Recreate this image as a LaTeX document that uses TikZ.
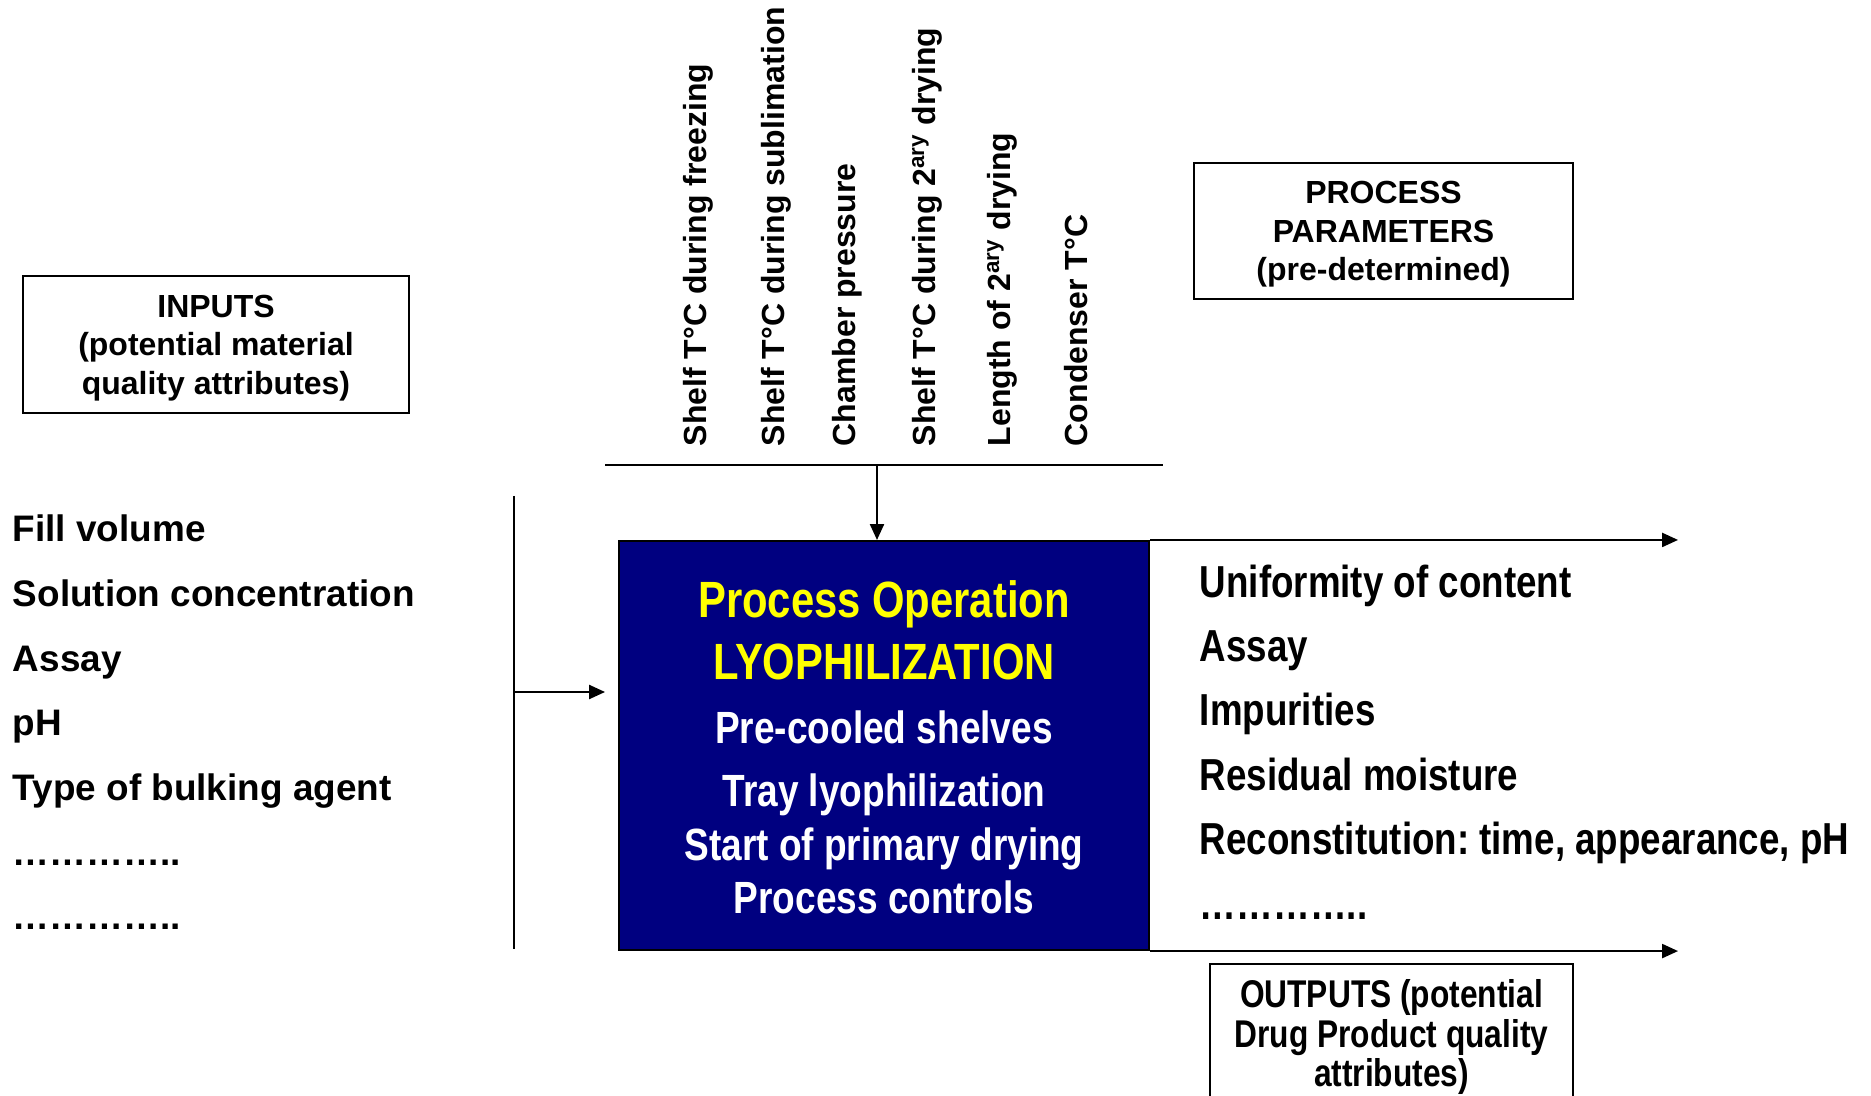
\documentclass[tikz,border=0pt]{standalone}
\usepackage{fontspec}
\setmainfont{Liberation Sans}
\newfontfamily\narrowfont[FakeStretch=0.82]{Liberation Sans}
\usepackage{xcolor}
\usepackage{tikz}
\usetikzlibrary{arrows.meta, positioning, calc}
\frenchspacing

\definecolor{lyoblue}{RGB}{0,0,128}
\definecolor{lyoyellow}{RGB}{255,255,0}

\tikzset{
    infobox/.style={draw, line width=0.8pt, align=center, inner sep=0pt, text depth=0pt},
    paramlabel/.style={rotate=90, anchor=west, inner sep=0pt, font=\bfseries\fontsize{18.2}{22}\selectfont},
    inlist/.style={anchor=base west, inner sep=0pt, font=\bfseries\fontsize{21}{25}\selectfont},
    outlist/.style={anchor=base west, inner sep=0pt, font=\narrowfont\bfseries\fontsize{25.5}{30}\selectfont},
    boxline/.style={anchor=base, inner sep=0pt, text=white, font=\narrowfont\bfseries\fontsize{25.7}{30}\selectfont},
    boxtitle/.style={anchor=base, inner sep=0pt, text=lyoyellow, font=\narrowfont\bfseries\fontsize{29}{34}\selectfont}
}

\begin{document}
\begin{tikzpicture}[
    >={Triangle[length=9pt,width=8pt]},
    line width=1pt
]

\useasboundingbox (0,0) rectangle (37.42,21.9);
\clip (0,0) rectangle (37.42,21.9);

% =========================================================
% CENTRE: process operation box
% =========================================================
\node[draw=black, fill=lyoblue, line width=1.2pt, minimum width=10.6cm, minimum height=8.18cm] (lyo) at (17.68,6.99) {};

\node[boxtitle] (title1) at (17.68,9.56) {Process Operation};
\node[boxtitle] (title2) at (17.68,8.31) {LYOPHILIZATION};
\node[boxline] (step1) at (17.68,7.04) {Pre-cooled shelves};
\node[boxline] (step2) at (17.68,5.78) {Tray lyophilization};
\node[boxline] (step3) at (17.68,4.70) {Start of primary drying};
\node[boxline] (step4) at (17.68,3.64) {Process controls};

% =========================================================
% TOP: process parameters
% =========================================================
\foreach \xx/\txt [count=\i] in {
    13.96/{Shelf T°C during freezing},
    15.52/{Shelf T°C during sublimation},
    16.94/{Chamber pressure},
    18.54/{Shelf T°C during 2\textsuperscript{ary} drying},
    20.04/{Length of 2\textsuperscript{ary} drying},
    21.52/{Condenser T°C}}
    \node[paramlabel] (par\i) at (\xx,12.96) {\txt};

% bar and arrow
\coordinate (barL) at (12.10,12.6);
\coordinate (barR) at (23.26,12.6);
\coordinate (barM) at (17.54,12.6);
\draw[line width=1.1pt] (barL) -- (barR);
\draw[->] (barM) -- (barM |- lyo.north);

\node[infobox, minimum width=7.58cm, minimum height=2.72cm,
      font=\bfseries\fontsize{18.2}{22}\selectfont] (params) at (27.67,17.28)
      {PROCESS\\PARAMETERS\\(pre-determined)};

% =========================================================
% LEFT: inputs
% =========================================================
\node[infobox, minimum width=7.72cm, minimum height=2.74cm,
      font=\bfseries\fontsize{18.2}{22}\selectfont] (inputs) at (4.32,15.01)
      {INPUTS\\(potential material\\quality attributes)};

\foreach \txt [count=\i from 0] in {Fill volume, Solution concentration, Assay, pH,
    Type of bulking agent, ………….., …………..}
    \node[inlist] (in\i) at (0.24,11.06-1.293*\i) {\txt};

\coordinate (inT) at (10.28,11.98);
\coordinate (inB) at (10.28,2.92);
\coordinate (inM) at (10.28,8.06);
\coordinate (inE) at (12.10,8.06);
\draw[line width=1.1pt] (inT) -- (inB);
\draw[->] (inM) -- (inE);

% =========================================================
% RIGHT: outputs
% =========================================================
\coordinate (outEnd) at (33.56,0);
\draw[->] (lyo.north east) -- (lyo.north east -| outEnd);
\draw[->] (lyo.south east) -- (lyo.south east -| outEnd);

\foreach \txt [count=\i from 0] in {Uniformity of content, Assay, Impurities,
    Residual moisture, {Reconstitution: time, appearance, pH}, …………..}
    \node[outlist] (out\i) at (23.98,9.96-1.288*\i) {\txt};

\node[infobox, minimum width=7.26cm, minimum height=2.76cm,
      font=\narrowfont\bfseries\fontsize{22}{22.5}\selectfont] (outputs) at (27.83,1.24)
      {OUTPUTS (potential\\Drug Product quality\\attributes)};

\end{tikzpicture}
\end{document}
